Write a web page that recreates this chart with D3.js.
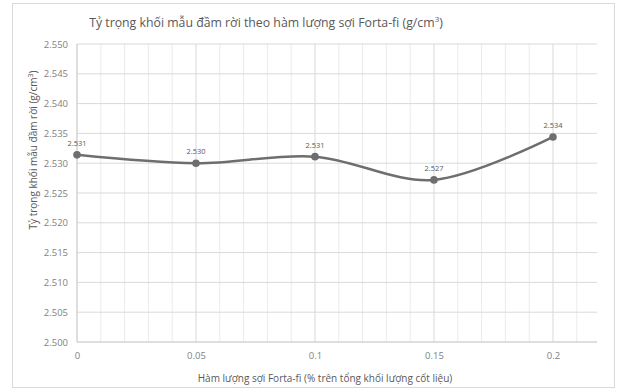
<!DOCTYPE html>
<html><head><meta charset="utf-8">
<script src="https://cdn.jsdelivr.net/npm/d3@7"></script>
<style>body{margin:0;background:#fff}svg{display:block}text{font-family:"Open Sans",sans-serif}</style>
</head><body><svg id="c" width="618" height="391"></svg>
<script>
const fiberContent = [0, 0.05, 0.1, 0.15, 0.2];
const density = [2.5314, 2.5300, 2.5311, 2.5272, 2.5344];
const densityLabels = ["2.531", "2.530", "2.531", "2.527", "2.534"];
const xTicks = [0, 0.05, 0.1, 0.15, 0.2];
const yTicks = [2.500, 2.505, 2.510, 2.515, 2.520, 2.525, 2.530, 2.535, 2.540, 2.545, 2.550];
const xMinor = [0.01,0.02,0.03,0.04,0.06,0.07,0.08,0.09,0.11,0.12,0.13,0.14,0.16,0.17,0.18,0.19,0.21];

const svg = d3.select("#c");
const L = 77, R = 597, T = 44, B = 342;
const x = d3.scaleLinear().domain([0, 0.2185]).range([L, R]);
const y = d3.scaleLinear().domain([2.5, 2.55]).range([B, T]);

svg.append("rect").attr("x",12.5).attr("y",3.5).attr("width",602).attr("height",384)
  .attr("fill","#fff").attr("stroke","#d9d9d9");

svg.append("g").selectAll("line").data(xMinor).join("line")
  .attr("x1",d=>x(d)).attr("x2",d=>x(d)).attr("y1",T).attr("y2",B)
  .attr("stroke","#ebebeb").attr("stroke-width",1);
svg.append("g").selectAll("line").data(xTicks).join("line")
  .attr("x1",d=>x(d)).attr("x2",d=>x(d)).attr("y1",T).attr("y2",B)
  .attr("stroke","#d9d9d9").attr("stroke-width",1);
svg.append("g").selectAll("line").data(yTicks).join("line")
  .attr("x1",L).attr("x2",R).attr("y1",d=>y(d)).attr("y2",d=>y(d))
  .attr("stroke","#d9d9d9").attr("stroke-width",1);
svg.append("line").attr("x1",L).attr("x2",L).attr("y1",T).attr("y2",B).attr("stroke","#d0d0d0");
svg.append("line").attr("x1",L).attr("x2",R).attr("y1",B).attr("y2",B).attr("stroke","#d0d0d0");

const yAxis = d3.axisLeft(y).tickValues(yTicks).tickFormat(d3.format(".3f")).tickSize(0).tickPadding(9);
const gy = svg.append("g").attr("transform",`translate(${L},0)`).call(yAxis);
gy.select(".domain").remove();
gy.selectAll("text").attr("fill","#7f7f7f").style("font-size","9.5px");

const xAxis = d3.axisBottom(x).tickValues(xTicks).tickFormat(d=>String(d)).tickSize(0).tickPadding(10);
const gx = svg.append("g").attr("transform",`translate(0,${B})`).call(xAxis);
gx.select(".domain").remove();
gx.selectAll("text").attr("fill","#7f7f7f").style("font-size","9.5px");

const pts = fiberContent.map((v,i)=>[v, density[i], densityLabels[i]]);
const line = d3.line().x(d=>x(d[0])).y(d=>y(d[1])).curve(d3.curveCardinal.tension(0));
svg.append("path").attr("d",line(pts)).attr("fill","none").attr("stroke","#6e6e6e").attr("stroke-width",2.5);
svg.append("g").selectAll("circle").data(pts).join("circle")
  .attr("cx",d=>x(d[0])).attr("cy",d=>y(d[1])).attr("r",3.8).attr("fill","#6e6e6e");
svg.append("g").selectAll("text").data(pts).join("text")
  .attr("x",d=>x(d[0])).attr("y",d=>y(d[1])-9).attr("text-anchor","middle")
  .attr("fill","#595959").style("font-size","7.5px").text(d=>d[2]);

const title = svg.append("text").attr("x",266).attr("y",27).attr("text-anchor","middle")
  .attr("fill","#595959").style("font-size","12.3px");
title.append("tspan").text("Tỷ trọng khối mẫu đầm rời theo hàm lượng sợi Forta-fi (g/cm");
title.append("tspan").attr("dy",-5).style("font-size","8px").text("3");
title.append("tspan").attr("dy",5).text(")");

const yt = svg.append("text").attr("transform","translate(37,150) rotate(-90)").attr("text-anchor","middle")
  .attr("fill","#595959").style("font-size","10px");
yt.append("tspan").text("Tỷ trọng khối mẫu đầm rời (g/cm");
yt.append("tspan").attr("dy",-4).style("font-size","7px").text("3");
yt.append("tspan").attr("dy",4).text(")");

svg.append("text").attr("x",325).attr("y",382).attr("text-anchor","middle")
  .attr("fill","#595959").style("font-size","10px")
  .text("Hàm lượng sợi Forta-fi (% trên tổng khối lượng cốt liệu)");
</script></body></html>
